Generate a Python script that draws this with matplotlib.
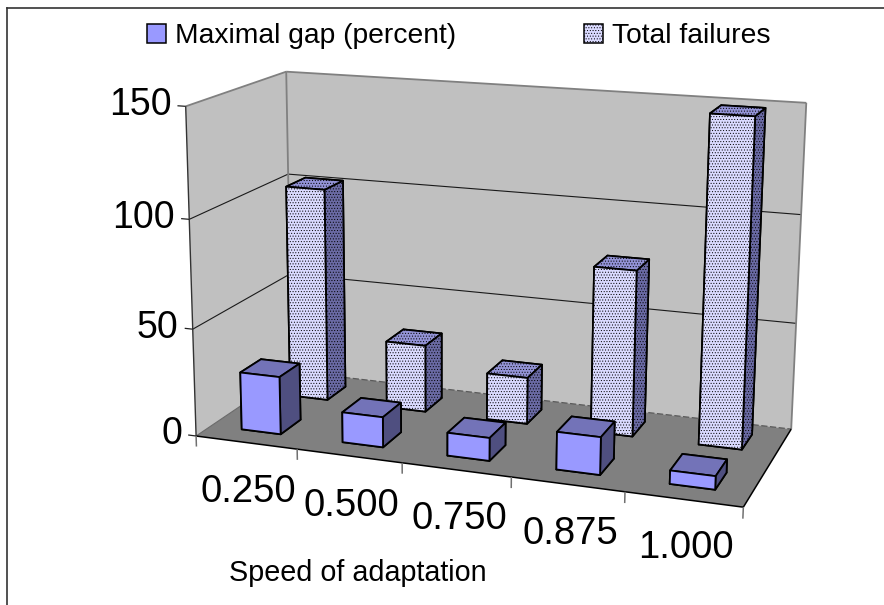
import numpy as np
import matplotlib
matplotlib.use("Agg")
import matplotlib.pyplot as plt
from matplotlib.lines import Line2D
from matplotlib.patches import Patch
from mpl_toolkits.mplot3d import proj3d
from mpl_toolkits.mplot3d.art3d import Poly3DCollection

plt.rcParams['font.family'] = ['Liberation Sans', 'DejaVu Sans']
plt.rcParams['hatch.color'] = (0.38, 0.38, 1.0, 0.5)
plt.rcParams['hatch.linewidth'] = 0.4

categories = ['0.250', '0.500', '0.750', '0.875', '1.000']
maximal_gap = [27, 14, 10.5, 17, 6]
total_failures = [102, 32, 22, 77, 149]
value_ticks = [0, 50, 100, 150]
series_names = ['Maximal gap (percent)', 'Total failures']
x_title = 'Speed of adaptation'

W, H = 884, 605

# Camera: box corner (category, depth, value) -> screen position, fitted as a homography.
box_anchors = [
    ((0, 0, 0), (198, 436)), ((5, 0, 0), (743, 507)),
    ((0, 1, 0), (290, 371)), ((5, 1, 0), (792, 430)),
    ((0, 0, 150), (185, 106)), ((0, 1, 150), (287, 72)),
    ((5, 1, 150), (807, 103)), ((0, 0, 100), (188, 219)),
    ((0, 1, 100), (289, 174)), ((5, 1, 100), (800, 215)),
    ((0, 0, 50), (193, 330)), ((5, 1, 50), (796, 322)),
]
rows, rhs = [], []
for (X, Y, Z), (u, v) in box_anchors:
    # screen pixels go to the [-1, 1] view box that mplot3d expects
    u, v = 2 * u / W - 1, 1 - 2 * v / H
    rows.append([X, Y, Z, 1, 0, 0, 0, 0, -u * X, -u * Y, -u * Z])
    rhs.append(u)
    rows.append([0, 0, 0, 0, X, Y, Z, 1, -v * X, -v * Y, -v * Z])
    rhs.append(v)
p = np.linalg.lstsq(np.array(rows, float), np.array(rhs, float), rcond=None)[0]
camera = np.array([
    [p[0], p[1], p[2], p[3]],
    [p[4], p[5], p[6], p[7]],
    [-0.2, 1.0, -0.002, 0.0],     # depth, only used for painter's sorting
    [p[8], p[9], p[10], 1.0],
])

fig = plt.figure(figsize=(W / 100, H / 100), dpi=100, facecolor='white')
ax = fig.add_axes([0, 0, 1, 1], projection='3d', computed_zorder=False)
ax.set_xticks([])
ax.set_yticks([])
ax.set_zticks([])
for axis in (ax.xaxis, ax.yaxis, ax.zaxis):
    axis.label.set_visible(False)
    axis.offsetText.set_visible(False)
    axis.set_visible(False)
ax.set_axis_off()
ax.patch.set_visible(False)
ax.set_proj_type('ortho')
ax.get_proj = lambda: camera
ax.apply_aspect = lambda position=None: None
ax.viewLim.intervalx = (-1, 1)
ax.viewLim.intervaly = (-1, 1)

n = len(categories)
top = value_ticks[-1]

# Walls and floor
wall = '#C0C0C0'
floor = '#808080'
panels = [
    ([(0, 0, 0), (0, 1, 0), (0, 1, top), (0, 0, top)], wall),
    ([(0, 1, 0), (n, 1, 0), (n, 1, top), (0, 1, top)], wall),
    ([(0, 0, 0), (n, 0, 0), (n, 1, 0), (0, 1, 0)], floor),
]
for verts, colour in panels:
    ax.add_collection3d(Poly3DCollection([verts], facecolors=colour, edgecolors='none', zorder=1))


def seg(a, b, **kw):
    kw.setdefault('zorder', 2)
    ax.plot([a[0], b[0]], [a[1], b[1]], [a[2], b[2]], solid_capstyle='butt', **kw)


def label(x, y, z, text, **kw):
    # flat text anchored at the projected position of a box coordinate
    px, py, _ = proj3d.proj_transform(x, y, z, camera)
    ax.text2D(px, py, text, transform=ax.transData, va='center', zorder=30, **kw)


edge = '#808080'
for v in value_ticks[1:-1]:
    seg((0, 0, v), (0, 1, v), color='#1a1a1a', lw=0.8)
    seg((0, 1, v), (n, 1, v), color='#1a1a1a', lw=0.8)
seg((0, 0, top), (0, 1, top), color=edge, lw=1.3)
seg((0, 1, top), (n, 1, top), color=edge, lw=1.3)
seg((0, 1, 0), (0, 1, top), color=edge, lw=1.3)
seg((n, 1, 0), (n, 1, top), color=edge, lw=1.3)
seg((0, 1, 0), (n, 1, 0), color='#5a5a5a', lw=0.9, linestyle=(0, (5, 2)))
seg((0, 0, 0), (0, 1, 0), color='#6a6a6a', lw=0.8)
seg((0, 0, 0), (n, 0, 0), color='black', lw=1.1)
seg((n, 0, 0), (n, 1, 0), color='black', lw=1.1)
seg((0, 0, 0), (0, 0, top), color='#333333', lw=1.0)

# Axis ticks and labels
for v in value_ticks:
    seg((-0.08, 0, v), (0, 0, v), color='#222222', lw=0.9)
    label(-0.14, 0, v, str(v), ha='right', fontsize=27)
for k in range(n + 1):
    seg((k, 0, 0), (k, 0, -5), color='#707070', lw=1.1)
for k, name in enumerate(categories):
    label(k + 0.51, 0.012 * k, -23.5, name, ha='center', fontsize=27.5)

# Bars: back series first, then the front one
bar_w = 0.39
bar_d = 0.21
front_faces = ['#4F4F80', '#7373B8', '#9999FF', '#4F4F80', '#4F4F80', '#4F4F80']
back_faces = ['#4F4F80', '#9393D6', '#DADAFF', '#6A6AA4', '#6A6AA4', '#6A6AA4']

for i, val in enumerate(total_failures):
    bar = ax.bar3d(i + 0.5 - bar_w / 2, 0.66, 0, bar_w, bar_d, val, color=back_faces,
                   edgecolor='black', linewidth=1.3, shade=False, zorder=5 + i)
    bar.set_hatch('......')
for i, val in enumerate(maximal_gap):
    ax.bar3d(i + 0.5 - bar_w / 2, 0.15, 0, bar_w, bar_d, val, color=front_faces,
             edgecolor='black', linewidth=1.3, shade=False, zorder=15 + i)

# Legend and outer frame
handles = [
    Patch(facecolor='#9999FF', edgecolor='black', linewidth=1.1),
    Patch(facecolor='#DADAFF', edgecolor='black', linewidth=1.1, hatch='......'),
]
fig.legend(handles, series_names, ncol=2, loc='center', bbox_to_anchor=(459 / W, 1 - 36 / H),
           frameon=False, fontsize=20.3, handlelength=0.65, handleheight=0.65,
           handletextpad=0.33, columnspacing=4.55, borderpad=0)
fig.text(357.5 / W, 1 - 573 / H, x_title, ha='center', va='center', fontsize=20.7)

frame = '#333333'
fig.add_artist(Line2D([7.5 / W, 1], [1 - 8 / H, 1 - 8 / H], color=frame, lw=1.2))
fig.add_artist(Line2D([7.5 / W, 7.5 / W], [1 - 8 / H, 0], color=frame, lw=1.2))

fig.savefig('out.png', dpi=100)
